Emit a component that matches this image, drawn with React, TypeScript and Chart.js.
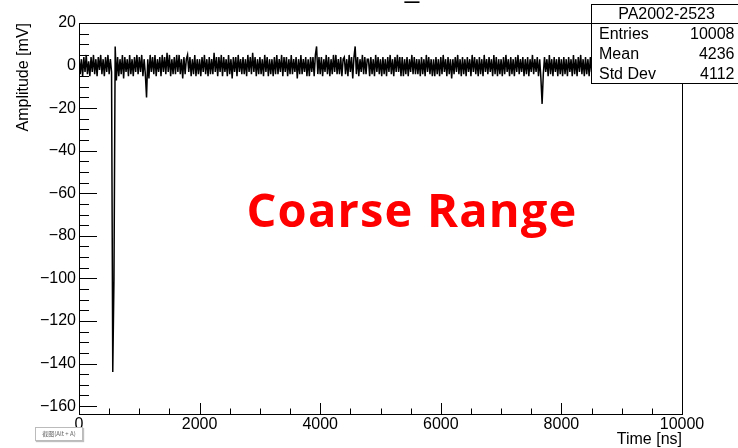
import React, { useEffect, useRef } from "react";
import { Chart, registerables } from "chart.js";

Chart.register(...registerables);

// ---- data ----
const sampleStepNs = 20;
const amplitudeMv = [
  4,-4,3,-5,4,-3,5,-4,2,-5, 4,-3,5,-4,3,-5,4,-2,5,-4, 3,-5,4,-3,5,-4,3,-3,-144,-100, 9,-7,4,-5,3,-4,5,-6,4,-3, 3,-5,5,-4,3,-5,4,-3,5,-4,
  4,-3,5,-5,3,-4,-15,3,-6,5, -3,4,-4,5,-5,3,-3,4,-5,5, -3,4,-4,6,-3,5,-5,3,-4,4, -4,5,-3,5,-4,3,-6,4,-4,3, 5,-3,4,-5,3,-4,5,-5,3,-4,
  3,-5,4,-3,5,-4,3,-5,4,-4, 3,-4,6,-3,4,-5,4,-3,5,-5, 4,-3,3,-5,5,-4,3,-6,4,-3, 4,-5,5,-3,3,-4,4,-4,3,-5, 5,-3,4,-4,6,-3,4,-5,3,-4,
  4,-4,3,-5,5,-3,4,-5,3,-4, 3,-5,4,-4,5,-4,3,-3,5,-5, 4,-3,4,-5,3,-4,5,-4,3,-3, 4,-6,3,-4,5,-4,3,-3,4,-5, 3,-5,4,-3,4,-5,5,9,-4,4,
  -4,4,-5,3,-3,5,-4,4,-5,3, -4,5,-3,5,-4,3,-4,4,-5,3, 4,-4,3,-5,5,-3,4,-6,4,9, -4,4,-5,3,-3,5,-4,4,-4,3, 3,-5,4,-4,3,-5,5,-3,4,-4,
  3,-5,4,-4,3,-5,4,-3,5,-4, 3,-5,4,-3,5,-3,4,-5,4,-5, 3,-4,4,-5,3,-3,5,-4,4,-4, 3,-4,3,-5,4,-4,3,-5,5,-3, 4,-4,3,-5,3,-5,4,-4,3,-5,
  4,-4,5,-3,3,-5,4,-4,3,-6, 3,-4,4,-3,5,-4,3,-5,4,-4, 3,-5,4,-3,3,-5,5,-3,4,-4, 3,-5,4,-4,3,-5,5,-3,3,-4, 4,-3,3,-5,5,-4,4,-5,3,-4,
  3,-5,4,-4,5,-3,3,-5,4,-4, 3,-5,4,-3,5,-4,3,-3,4,-5, 3,-4,4,-5,3,-3,5,-4,3,-3, 4,-5,3,-6,-18,-4,4,-3,3,-5, 5,-4,3,-5,4,-3,3,-5,4,-4,
  3,-5,4,-4,3,-5,4,-3,3,-5, 5,-4,3,-5,4,-3,5,-4,3,-5, 4,-4,3,-5,4,-3,3,-5,5,-3, 3,-5,4,-4,3,-5,5,-4,3,-4, 4,-3,3,-5,4,-4,3,-5,5,-3,
  3,-5,4,-4,5,-3,3,-5,4,-5, 3,-4,4,-5,3,-3,5,-4,4,-5, 3,-4,3,-5,4,-4,3,-5,5,-3, 4,-4,3,-5,3,-5,4,-4,3,-5, 4,-3,3,-5,5,-4,4,-5,3,-4,
  0,
];

const xTickValues = [0, 2000, 4000, 6000, 8000, 10000];
const yTickValues = [-160, -140, -120, -100, -80, -60, -40, -20, 0, 20];
const xMinorStep = 500;
const yMinorStep = 5;
const xRange = [0, 10000];
const yRange = [-163.7, 20];

const statsTitle = "PA2002-2523";
const statsLabels = ["Entries", "Mean", "Std Dev"];
const statsValues = ["10008", "4236", "4112"];
const overlayText = "Coarse Range";

const FONT = '"Liberation Sans", Arial, sans-serif';

const rootPlugin = {
  id: "rootStyle",
  afterDatasetsDraw(chart: any) {
    const { ctx, chartArea: a, scales } = chart;
    const xs = scales.x;
    const ys = scales.y;
    ctx.save();
    ctx.strokeStyle = "#000";
    ctx.lineWidth = 1;
    // frame
    ctx.strokeRect(Math.round(a.left) + 0.5, Math.round(a.top) + 0.5, Math.round(a.right - a.left), Math.round(a.bottom - a.top));
    ctx.beginPath();
    // x ticks (inside)
    for (let v = xRange[0]; v <= xRange[1]; v += xMinorStep) {
      const px = Math.round(xs.getPixelForValue(v)) + 0.5;
      const major = xTickValues.includes(v);
      const len = major ? 11 : 5.5;
      ctx.moveTo(px, a.bottom);
      ctx.lineTo(px, a.bottom - len);
    }
    // y ticks (inside)
    for (let v = -160; v <= 20; v += yMinorStep) {
      const py = Math.round(ys.getPixelForValue(v)) + 0.5;
      const major = yTickValues.includes(v);
      const len = major ? 18 : 10;
      ctx.moveTo(a.left, py);
      ctx.lineTo(a.left + len, py);
    }
    ctx.stroke();
    ctx.restore();
  },
  afterDraw(chart: any) {
    const { ctx } = chart;
    ctx.save();
    // cut-off title
    ctx.fillStyle = "#000";
    ctx.font = `26px ${FONT}`;
    ctx.textAlign = "center";
    ctx.textBaseline = "alphabetic";
    ctx.fillText("_", 412, -2.5);

    // stats box
    const bx = 591.5, by = 4.5, bw = 160, bh = 79;
    ctx.fillStyle = "#fff";
    ctx.fillRect(bx, by, bw, bh);
    ctx.strokeStyle = "#000";
    ctx.lineWidth = 1;
    ctx.strokeRect(bx, by, bw, bh);
    ctx.beginPath();
    ctx.moveTo(bx, 23.5);
    ctx.lineTo(bx + bw, 23.5);
    ctx.stroke();
    ctx.fillStyle = "#000";
    ctx.font = `16px ${FONT}`;
    ctx.textBaseline = "middle";
    ctx.textAlign = "center";
    ctx.fillText(statsTitle, 666.5, 15);
    const rowsY = [35, 55, 75];
    statsLabels.forEach((lab, i) => {
      ctx.textAlign = "left";
      ctx.fillText(lab, 599, rowsY[i]);
      ctx.textAlign = "right";
      ctx.fillText(statsValues[i], 734.5, rowsY[i]);
    });

    // red overlay
    ctx.fillStyle = "#ff0000";
    ctx.font = 'bold 47px "Open Sans", "Noto Sans", sans-serif';
    try {
      (ctx as any).letterSpacing = "1.2px";
    } catch (e) {}
    ctx.textAlign = "center";
    ctx.textBaseline = "alphabetic";
    ctx.fillText(overlayText, 412, 227);
    ctx.restore();
  },
};

export default function App() {
  const canvasRef = useRef<HTMLCanvasElement | null>(null);

  useEffect(() => {
    const canvas = canvasRef.current;
    if (!canvas) return;
    const points = amplitudeMv.map((v, i) => ({ x: i * sampleStepNs, y: v }));
    const chart = new Chart(canvas, {
      type: "line",
      data: {
        datasets: [
          {
            data: points,
            borderColor: "#000",
            borderWidth: 1.5,
            pointRadius: 0,
            tension: 0,
            fill: false,
          },
        ],
      },
      options: {
        animation: false,
        responsive: false,
        devicePixelRatio: 1,
        layout: { padding: { left: 0, top: 23, right: 738 - 682, bottom: 0 } },
        plugins: { legend: { display: false }, tooltip: { enabled: false }, title: { display: false } },
        scales: {
          x: {
            type: "linear",
            position: "bottom",
            min: xRange[0],
            max: xRange[1],
            grid: { display: false, drawTicks: false },
            border: { display: false },
            afterBuildTicks: (s: any) => {
              s.ticks = xTickValues.map((v) => ({ value: v }));
            },
            afterFit: (s: any) => {
              s.height = 448 - 414;
            },
            ticks: {
              color: "#000",
              font: { family: FONT, size: 16 },
              padding: 1,
              maxRotation: 0,
              autoSkip: false,
              callback: (v: any) => String(v),
            },
            title: {
              display: true,
              text: "Time [ns]",
              align: "end",
              color: "#000",
              font: { family: FONT, size: 16, lineHeight: 1 },
              padding: 0,
            },
          },
          y: {
            type: "linear",
            position: "left",
            min: yRange[0],
            max: yRange[1],
            grid: { display: false, drawTicks: false },
            border: { display: false },
            afterBuildTicks: (s: any) => {
              s.ticks = yTickValues.map((v) => ({ value: v }));
            },
            afterFit: (s: any) => {
              s.width = 79;
            },
            ticks: {
              color: "#000",
              font: { family: FONT, size: 16 },
              padding: 3,
              autoSkip: false,
              callback: (v: any) => (Number(v) < 0 ? "\u2212" + Math.abs(Number(v)) : String(v)),
            },
            title: {
              display: true,
              text: "Amplitude [mV]",
              align: "end",
              color: "#000",
              font: { family: FONT, size: 16, lineHeight: 1 },
              padding: { top: 16, bottom: 0 },
            },
          },
        },
      },
      plugins: [rootPlugin],
    });
    return () => chart.destroy();
  }, []);

  return (
    <div style={{ position: "fixed", left: 0, top: 0, width: 738, height: 448, background: "#fff" }}>
      <canvas ref={canvasRef} width={738} height={448} style={{ display: "block", width: 738, height: 448 }} />
      <div
        style={{
          position: "absolute",
          left: 35,
          top: 427,
          width: 46,
          height: 12,
          border: "1px solid #bbb",
          background: "#fff",
          boxShadow: "1px 1px 1px rgba(0,0,0,0.25)",
          fontFamily: '"Noto Sans CJK SC", sans-serif',
          fontSize: 6,
          lineHeight: "12px",
          color: "#666",
          textAlign: "center",
          whiteSpace: "nowrap",
          overflow: "hidden",
        }}
      >
        截图(Alt + A)
      </div>
    </div>
  );
}
